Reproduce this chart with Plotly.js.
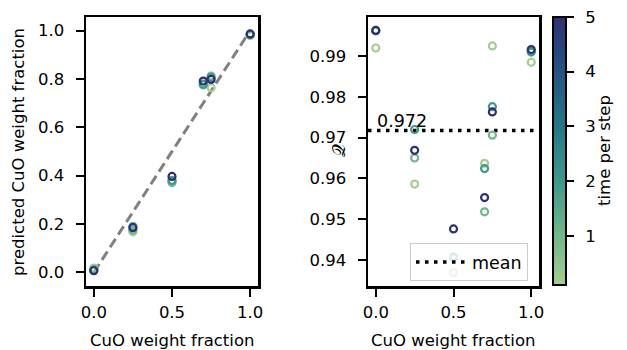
<!DOCTYPE html>
<html>
<head>
<meta charset="utf-8">
<script src="https://cdn.plot.ly/plotly-3.0.1.min.js"></script>
<style>html,body{margin:0;padding:0;background:#fff;}#chart{width:627px;height:350px;}</style>
</head>
<body>
<div id="chart"></div>
<script>
// CuO weight fractions (true)
const compositions = [0, 0.25, 0.5, 0.7, 0.75, 1.0];
// time per step values (colour)
const times = [0.1, 1, 2, 5];
// predicted CuO weight fraction, one array per time
const predicted_t0_1 = [0.018, 0.168, 0.380, 0.780, 0.764, 0.980];
const predicted_t1   = [0.012, 0.175, 0.372, 0.775, 0.812, 0.983];
const predicted_t2   = [0.010, 0.190, 0.380, 0.778, 0.805, 0.984];
const predicted_t5   = [0.007, 0.185, 0.397, 0.791, 0.798, 0.986];
// quality Q, one array per time
const Q_t0_1 = [0.9920, 0.9586, 0.9369, 0.9637, 0.9925, 0.9885];
const Q_t1   = [0.9963, 0.9650, 0.9405, 0.9518, 0.9706, 0.9912];
const Q_t2   = [0.9962, 0.9720, 0.9407, 0.9624, 0.9776, 0.9910];
const Q_t5   = [0.9963, 0.9669, 0.9476, 0.9553, 0.9763, 0.9916];
const xTickVals = [0, 0.5, 1.0];
const yTickVals1 = [0, 0.2, 0.4, 0.6, 0.8, 1.0];
const yTickVals2 = [0.94, 0.95, 0.96, 0.97, 0.98, 0.99];
const cbTickVals = [1, 2, 3, 4, 5];

const predSets = [predicted_t0_1, predicted_t1, predicted_t2, predicted_t5];
const qSets = [Q_t0_1, Q_t1, Q_t2, Q_t5];

const px = [], py = [], pc = [], qx = [], qy = [], qc = [];
times.forEach((t, i) => {
  compositions.forEach((c, j) => {
    px.push(c); py.push(predSets[i][j]); pc.push(t);
    qx.push(c); qy.push(qSets[i][j]); qc.push(t);
  });
});
const allQ = [].concat(...qSets);
const meanQ = allQ.reduce((a, b) => a + b, 0) / allQ.length;

const crest = [
  [0.0, 'rgb(165,205,144)'],
  [0.2, 'rgb(110,180,139)'],
  [0.4, 'rgb(60,150,140)'],
  [0.6, 'rgb(36,117,136)'],
  [0.8, 'rgb(36,84,128)'],
  [1.0, 'rgb(46,48,116)']
];

const FS = 16.5;
const font = {family: 'DejaVu Sans', size: FS, color: '#000'};
const mk = (col) => ({
  symbol: 'circle-open', size: 7, color: col, coloraxis: 'coloraxis',
  line: {width: 2.2}
});

const traces = [
  {type: 'scatter', mode: 'markers', x: px, y: py, xaxis: 'x', yaxis: 'y',
   marker: mk(pc), showlegend: false, hoverinfo: 'skip'},
  {type: 'scatter', mode: 'markers', x: qx, y: qy, xaxis: 'x2', yaxis: 'y2',
   marker: mk(qc), showlegend: false, hoverinfo: 'skip'}
];

const axisCommon = {
  showgrid: false, zeroline: false, showline: true, mirror: true,
  linecolor: '#000', linewidth: 2.5, ticks: 'outside', ticklen: 8, tickwidth: 2,
  tickcolor: '#000', tickfont: font
};

const ann = (x, y, text, angle, f) => ({
  xref: 'paper', yref: 'paper', x: x / 627, y: 1 - y / 350, text: text,
  showarrow: false, textangle: angle, xanchor: 'center', yanchor: 'middle', font: f || font
});

const layout = {
  width: 627, height: 350,
  margin: {l: 0, r: 0, t: 0, b: 0},
  paper_bgcolor: '#fff', plot_bgcolor: '#fff',
  font: font,
  showlegend: true,
  xaxis: Object.assign({}, axisCommon, {
    domain: [86/627, 258/627], range: [-0.05, 1.05], ticklabelstandoff: 2,
    tickvals: xTickVals, ticktext: xTickVals.map(v => v.toFixed(1))
  }),
  yaxis: Object.assign({}, axisCommon, {
    domain: [1 - 286/350, 1 - 17/350], range: [-0.056, 1.056], ticklabelstandoff: 8,
    tickvals: yTickVals1, ticktext: yTickVals1.map(v => v.toFixed(1))
  }),
  xaxis2: Object.assign({}, axisCommon, {
    domain: [368/627, 539/627], range: [-0.05, 1.05], anchor: 'y2', ticklabelstandoff: 2,
    tickvals: xTickVals, ticktext: xTickVals.map(v => v.toFixed(1))
  }),
  yaxis2: Object.assign({}, axisCommon, {
    domain: [1 - 286/350, 1 - 17/350], range: [0.9336, 0.9996], anchor: 'x2', ticklabelstandoff: 8,
    tickvals: yTickVals2, ticktext: yTickVals2.map(v => v.toFixed(2))
  }),
  coloraxis: {
    cmin: Math.min(...times), cmax: Math.max(...times), colorscale: crest,
    colorbar: {
      x: 553/627, xanchor: 'left', xpad: 0, ypad: 0,
      y: 1 - 17/350, yanchor: 'top', len: 268/350, lenmode: 'fraction',
      thickness: 13, thicknessmode: 'pixels',
      outlinewidth: 2, outlinecolor: '#000',
      tickvals: cbTickVals, ticktext: cbTickVals.map(v => '\u00A0\u2009' + v),
      ticks: 'outside', ticklen: 7, tickwidth: 2, tickcolor: '#000',
      tickfont: font
    }
  },
  shapes: [
    {type: 'line', xref: 'x', yref: 'y',
     x0: compositions[0], y0: compositions[0],
     x1: compositions[compositions.length - 1], y1: compositions[compositions.length - 1],
     line: {color: 'rgb(128,128,128)', width: 3, dash: '10px,5px'}, layer: 'below'},
    {type: 'line', xref: 'x2 domain', yref: 'y2', x0: 0, x1: 1, y0: meanQ, y1: meanQ,
     line: {color: '#000', width: 3.5, dash: '3.5px,5.5px'}, layer: 'below',
     showlegend: true, name: 'mean'}
  ],
  annotations: [
    {xref: 'x2', yref: 'y2', x: compositions[0], y: meanQ, text: meanQ.toFixed(3),
     showarrow: false, xanchor: 'left', yanchor: 'bottom', yshift: -2, xshift: -1,
     font: {family: 'DejaVu Sans', size: 17.5, color: '#000'}},
    ann(172, 340, 'CuO weight fraction', 0),
    ann(453, 340, 'CuO weight fraction', 0),
    ann(18, 152, 'predicted CuO weight fraction', -90),
    ann(338, 151, '𝒬', -90, {family: 'DejaVu Sans', size: 18, color: '#000'}),
    ann(604, 151, 'time per step', -90)
  ],
  legend: {
    x: 410/627, y: 1 - 243/350, xanchor: 'left', yanchor: 'top',
    bgcolor: 'rgba(255,255,255,0.8)', bordercolor: '#cccccc', borderwidth: 1,
    itemwidth: 51,
    font: {family: 'DejaVu Sans', size: 17.5, color: '#000'}
  }
};

Plotly.newPlot('chart', traces, layout, {staticPlot: true, displayModeBar: false});
</script>
</body>
</html>
